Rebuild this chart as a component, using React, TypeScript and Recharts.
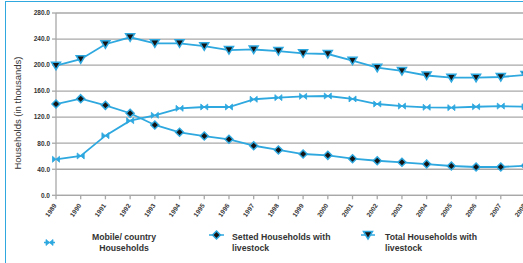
import React from 'react';
import { LineChart, Line, XAxis, YAxis, CartesianGrid } from 'recharts';

const YEARS = ['1989','1990','1991','1992','1993','1994','1995','1996','1997','1998','1999','2000','2001','2002','2003','2004','2005','2006','2007','2008'];
const MOBILE = [55.3, 60.4, 91.6, 114.6, 122.9, 133.6, 135.6, 135.6, 147.5, 150, 152, 152.5, 148, 140.2, 137, 135.2, 134.6, 136, 137, 136];
const SETTLED = [140.2, 148.4, 138.2, 126, 108, 96.8, 91, 86, 76.2, 69.6, 63.4, 61.4, 56.2, 53.1, 50.7, 48, 45, 43.5, 43.5, 45.5];
const TOTAL = [199, 209, 232, 242.7, 233.5, 233.5, 229, 223, 224, 221.6, 218, 217, 206.8, 196, 191, 184, 180.6, 180.6, 181.7, 184.8];
const Y_TICKS = [0, 40, 80, 120, 160, 200, 240, 280];
const LEGEND = ['Mobile/ country Households', 'Setted Households with livestock', 'Total Households with livestock'];
const Y_TITLE = 'Households (in thousands)';

const BLUE = '#2ea8df';
const DARK = '#141414';
const GRID = '#a8a8a8';
const TEXT = '#333333';

const data = YEARS.map((year, i) => ({ year, mobile: MOBILE[i], settled: SETTLED[i], total: TOTAL[i] }));

const bowtie = (cx: number, cy: number) =>
  `M${cx - 3.5},${cy - 3} L${cx + 3.5},${cy + 3} L${cx + 3.5},${cy - 3} L${cx - 3.5},${cy + 3} Z`;
const diamond = (cx: number, cy: number) =>
  `M${cx},${cy - 4} L${cx + 4},${cy} L${cx},${cy + 4} L${cx - 4},${cy} Z`;
const tri = (cx: number, cy: number) =>
  `M${cx - 4.5},${cy - 3.5} L${cx + 4.5},${cy - 3.5} L${cx},${cy + 4} Z`;

const MobileDot = (p: any) => {
  if (p.cx == null || p.cy == null) return <g key={`m${p.index}`} />;
  return <path key={`m${p.index}`} d={bowtie(p.cx, p.cy)} fill={BLUE} stroke={BLUE} strokeWidth={0.8} />;
};
const SettledDot = (p: any) => {
  if (p.cx == null || p.cy == null) return <g key={`s${p.index}`} />;
  return <path key={`s${p.index}`} d={diamond(p.cx, p.cy)} fill={DARK} stroke={BLUE} strokeWidth={1.5} />;
};
const TotalDot = (p: any) => {
  if (p.cx == null || p.cy == null) return <g key={`t${p.index}`} />;
  return <path key={`t${p.index}`} d={tri(p.cx, p.cy)} fill={DARK} stroke={BLUE} strokeWidth={1.5} />;
};

const XTick = (p: any) => {
  const { x, y, payload } = p;
  return (
    <g transform={`translate(${x - 1},${y + 3})`}>
      <text transform="rotate(-55)" textAnchor="end" dy="0.35em" fontSize={6.5} fontWeight="bold" fill={TEXT}>
        {payload.value}
      </text>
    </g>
  );
};

export default function App() {
  return (
    <div style={{ position: 'fixed', left: 0, top: 0, width: 523, height: 263, overflow: 'hidden', background: '#fff', fontFamily: '"Liberation Sans", Arial, sans-serif' }}>
      <div style={{ position: 'absolute', left: 4.5, top: 0.5, width: 600, height: 400, border: `1.5px solid ${BLUE}` }} />
      <div style={{ position: 'absolute', left: 0, top: 0 }}>
        <LineChart width={540} height={263} data={data} margin={{ top: 13, right: 14.5, left: 0, bottom: 37.7 }}>
          <CartesianGrid vertical={false} stroke={GRID} strokeWidth={1.3} />
          <XAxis
            dataKey="year"
            interval={0}
            tickSize={4}
            tickMargin={2}
            height={30}
            padding={{ left: 0, right: 0 }}
            axisLine={{ stroke: GRID, strokeWidth: 1.3 }}
            tickLine={{ stroke: GRID, strokeWidth: 1.3 }}
            tick={<XTick />}
          />
          <YAxis
            domain={[0, 280]}
            ticks={Y_TICKS}
            interval={0}
            width={56}
            tickSize={4}
            tickMargin={2}
            axisLine={{ stroke: GRID, strokeWidth: 1.3 }}
            tickLine={{ stroke: GRID, strokeWidth: 1.3 }}
            tick={{ fontSize: 6.5, fontWeight: 'bold', fill: TEXT }}
            tickFormatter={(v: number) => v.toFixed(1)}
          />
          <Line dataKey="total" stroke={BLUE} strokeWidth={1.8} dot={<TotalDot />} isAnimationActive={false} />
          <Line dataKey="mobile" stroke={BLUE} strokeWidth={1.8} dot={<MobileDot />} isAnimationActive={false} />
          <Line dataKey="settled" stroke={BLUE} strokeWidth={1.8} dot={<SettledDot />} isAnimationActive={false} />
        </LineChart>
      </div>
      <svg width={523} height={263} style={{ position: 'absolute', left: 0, top: 0, pointerEvents: 'none' }}>
        <text transform="translate(17,113) rotate(-90)" textAnchor="middle" dominantBaseline="central" fontSize={9.5} fill={TEXT}>
          {Y_TITLE}
        </text>
        <g fontSize={8.7} fontWeight="bold" fill={TEXT}>
          <line x1={44} x2={55} y1={242.5} y2={242.5} stroke={BLUE} strokeWidth={1.5} />
          <path d={bowtie(49.5, 242.5)} fill={BLUE} stroke={BLUE} strokeWidth={0.8} />
          <text x={124} y={236.7} textAnchor="middle" dominantBaseline="central">Mobile/ country</text>
          <text x={124} y={247.7} textAnchor="middle" dominantBaseline="central">Households</text>

          <line x1={209} x2={224} y1={235} y2={235} stroke={BLUE} strokeWidth={1.5} />
          <path d={diamond(216.5, 235)} fill={DARK} stroke={BLUE} strokeWidth={1.5} />
          <text x={232} y={236.7} dominantBaseline="central">Setted Households with</text>
          <text x={232} y={247.7} dominantBaseline="central">livestock</text>

          <line x1={361} x2={375} y1={235} y2={235} stroke={BLUE} strokeWidth={1.5} />
          <path d={tri(368, 235)} fill={DARK} stroke={BLUE} strokeWidth={1.5} />
          <text x={385} y={236.7} dominantBaseline="central">Total Households with</text>
          <text x={385} y={247.7} dominantBaseline="central">livestock</text>
        </g>
      </svg>
    </div>
  );
}
